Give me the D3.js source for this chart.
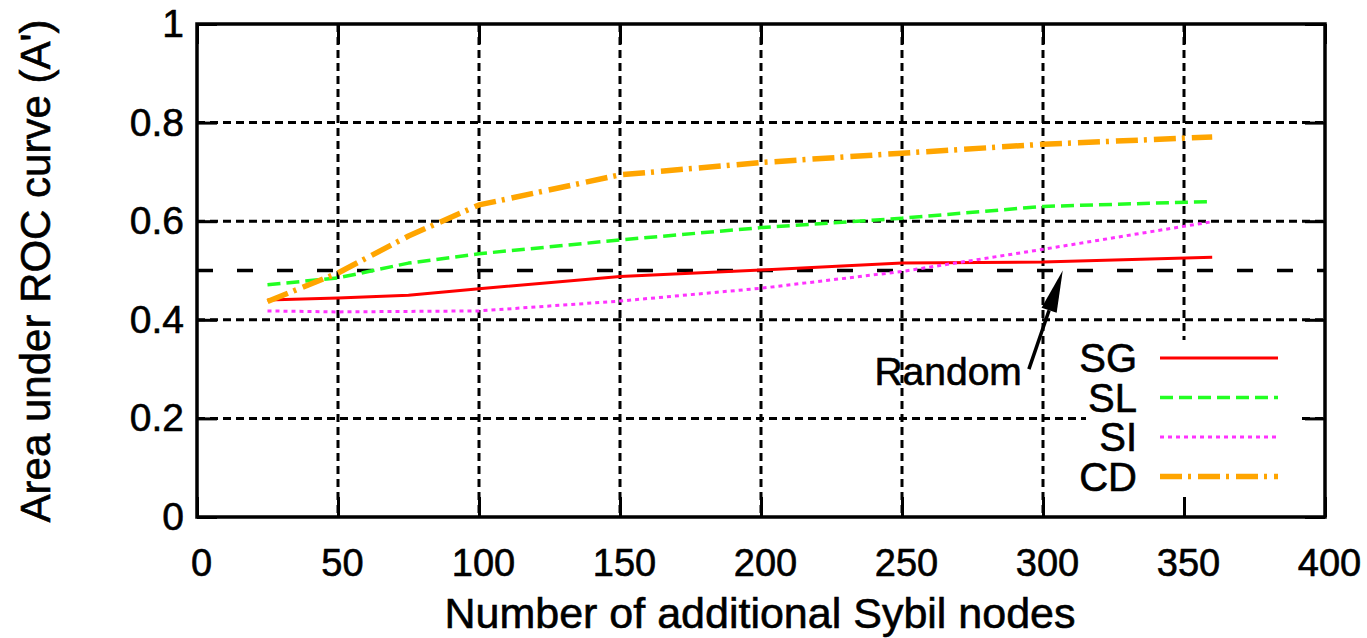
<!DOCTYPE html>
<html>
<head>
<meta charset="utf-8">
<script src="https://cdn.jsdelivr.net/npm/d3@7"></script>
<style>
  body { margin: 0; background: #fff; }
  svg text { font-family: "Liberation Sans", Arial, Helvetica, sans-serif; fill: #000; stroke: #000; stroke-width: 0.6px; }
</style>
</head>
<body>
<svg id="chart" width="1367" height="638"></svg>
<script>
//data
var nodes = [25, 50, 75, 100, 150, 200, 250, 300, 360];
var sgVals = [0.440, 0.444, 0.450, 0.463, 0.488, 0.501, 0.515, 0.517, 0.527];
var slVals = [0.471, 0.485, 0.515, 0.534, 0.562, 0.587, 0.606, 0.630, 0.640];
var siVals = [0.418, 0.416, 0.417, 0.418, 0.438, 0.464, 0.498, 0.543, 0.599];
var cdVals = [0.437, 0.495, 0.570, 0.633, 0.694, 0.719, 0.738, 0.756, 0.771];
var xTicks = [0, 50, 100, 150, 200, 250, 300, 350, 400];
var yTicks = [0, 0.2, 0.4, 0.6, 0.8, 1];
var randomLevel = 0.5;

var series = [
  {name: "SG", vals: sgVals, color: "#ff0000", width: 3, dash: null},
  {name: "SL", vals: slVals, color: "#22ff22", width: 3.5, dash: "13,6"},
  {name: "SI", vals: siVals, color: "#ff33ff", width: 3, dash: "4,4"},
  {name: "CD", vals: cdVals, color: "#ffa500", width: 5.5, dash: "22,6,3,7"}
];

var svg = d3.select("#chart");
//note: "top" is taken by window.top, so plot edges get their own names
var plotL = 197, plotR = 1325, plotT = 24, plotB = 517;

var xScale = d3.scaleLinear().domain([0, 400]).range([plotL, plotR]);
var yScale = d3.scaleLinear().domain([0, 1]).range([plotB, plotT]);

//grid
svg.append("g").selectAll("line")
  .data(xTicks.slice(1, -1))
  .enter().append("line")
  .attr("x1", function(d){ return xScale(d); })
  .attr("x2", function(d){ return xScale(d); })
  .attr("y1", plotT).attr("y2", plotB)
  .attr("stroke", "#000").attr("stroke-width", 3)
  .attr("stroke-dasharray", "8,5");

svg.append("g").selectAll("line")
  .data(yTicks.slice(1, -1))
  .enter().append("line")
  .attr("x1", plotL).attr("x2", plotR)
  .attr("y1", function(d){ return yScale(d); })
  .attr("y2", function(d){ return yScale(d); })
  .attr("stroke", "#000").attr("stroke-width", 3)
  .attr("stroke-dasharray", "8,5");

//random line
svg.append("line")
  .attr("x1", plotL).attr("x2", plotR)
  .attr("y1", yScale(randomLevel)).attr("y2", yScale(randomLevel))
  .attr("stroke", "#000").attr("stroke-width", 3.5)
  .attr("stroke-dasharray", "16,24");

//series lines
var line = d3.line()
  .x(function(d){ return xScale(d[0]); })
  .y(function(d){ return yScale(d[1]); });

series.forEach(function(s){
  var pts = nodes.map(function(n, i){ return [n, s.vals[i]]; });
  svg.append("path")
    .attr("d", line(pts))
    .attr("fill", "none")
    .attr("stroke", s.color)
    .attr("stroke-width", s.width)
    .attr("stroke-linejoin", "round")
    .attr("stroke-dasharray", s.dash);
});

//legend (opaque box)
svg.append("rect")
  .attr("x", 1086).attr("y", 340)
  .attr("width", 1300 - 1086).attr("height", plotB - 340)
  .attr("fill", "#fff");

series.forEach(function(s, i){
  var ly = 358 + i * 39.5;
  svg.append("text")
    .attr("x", 1137).attr("y", ly)
    .attr("dy", "0.36em")
    .attr("text-anchor", "end")
    .style("font-size", "40px")
    .text(s.name);
  svg.append("line")
    .attr("x1", 1160).attr("x2", 1278)
    .attr("y1", ly).attr("y2", ly)
    .attr("stroke", s.color)
    .attr("stroke-width", s.width)
    .attr("stroke-dasharray", s.dash);
});

//axes with inward ticks on all sides
function styleAxis(g){
  g.select(".domain").remove();
  g.selectAll(".tick line").attr("stroke", "#000").attr("stroke-width", 3);
}

svg.append("g")
  .attr("transform", "translate(0," + plotB + ")")
  .call(d3.axisBottom(xScale).tickValues(xTicks).tickSize(-20).tickPadding(32).tickFormat(d3.format("d")))
  .call(styleAxis)
  .selectAll("text").style("font-size", "38px").attr("dx", "4");

svg.append("g")
  .attr("transform", "translate(0," + plotT + ")")
  .call(d3.axisTop(xScale).tickValues(xTicks).tickSize(-20).tickFormat(""))
  .call(styleAxis);

svg.append("g")
  .attr("transform", "translate(" + plotL + ",0)")
  .call(d3.axisLeft(yScale).tickValues(yTicks).tickSize(-20).tickPadding(13).tickFormat(function(d){ return d === 0 || d === 1 ? d3.format("d")(d) : d3.format(".1f")(d); }))
  .call(styleAxis)
  .selectAll("text").style("font-size", "39px");

svg.append("g")
  .attr("transform", "translate(" + plotR + ",0)")
  .call(d3.axisRight(yScale).tickValues(yTicks).tickSize(-20).tickFormat(""))
  .call(styleAxis);

//frame
svg.append("rect")
  .attr("x", plotL).attr("y", plotT)
  .attr("width", plotR - plotL).attr("height", plotB - plotT)
  .attr("fill", "none").attr("stroke", "#000").attr("stroke-width", 3.5);

//Random annotation
var tail = [295, 0.3], tip = [307, 0.5];
var tx = xScale(tail[0]), ty = yScale(tail[1]);
var px = xScale(tip[0]), py = yScale(tip[1]);
var ang = Math.atan2(py - ty, px - tx);
var headLen = 42, headW = 8;
var bx = px - headLen * Math.cos(ang), by = py - headLen * Math.sin(ang);
svg.append("line")
  .attr("x1", tx).attr("y1", ty).attr("x2", bx).attr("y2", by)
  .attr("stroke", "#000").attr("stroke-width", 3.5);
svg.append("path")
  .attr("d", "M" + px + "," + py +
    "L" + (bx + headW * Math.sin(ang)) + "," + (by - headW * Math.cos(ang)) +
    "L" + (bx - headW * Math.sin(ang)) + "," + (by + headW * Math.cos(ang)) + "Z")
  .attr("fill", "#000");

svg.append("text")
  .attr("x", xScale(292.5)).attr("y", yScale(0.268))
  .attr("text-anchor", "end")
  .style("font-size", "39px")
  .text("Random");

//axis titles
svg.append("text")
  .attr("x", 760).attr("y", 628)
  .attr("text-anchor", "middle")
  .style("font-size", "43px")
  .text("Number of additional Sybil nodes");

svg.append("text")
  .attr("transform", "translate(50," + 271 + ") rotate(-90)")
  .attr("text-anchor", "middle")
  .style("font-size", "42px")
  .text("Area under ROC curve (A')");
</script>
</body>
</html>
